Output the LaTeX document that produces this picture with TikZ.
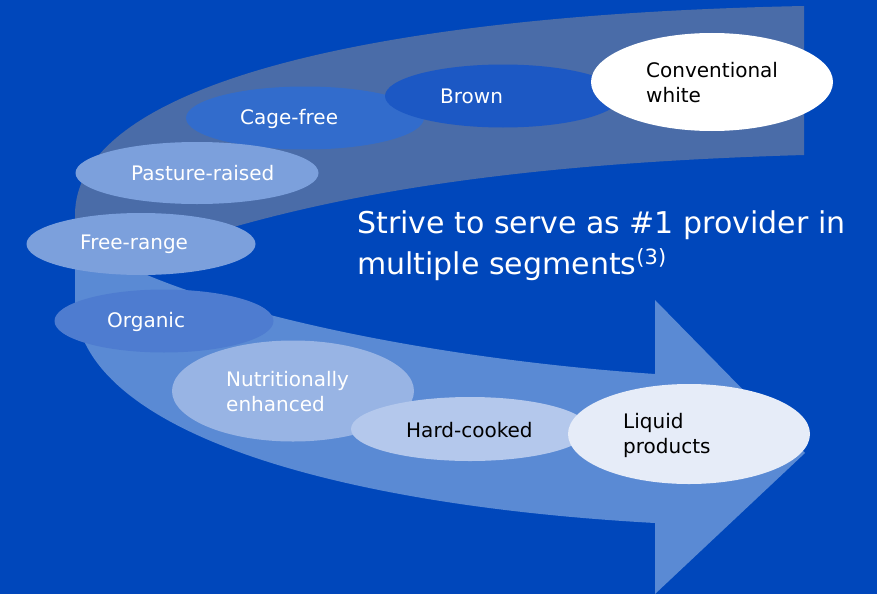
\documentclass[tikz,border=0pt]{standalone}
\usepackage{fontspec}
\setmainfont{DejaVu Sans}
\usetikzlibrary{shapes.geometric}

\definecolor{bgblue}{RGB}{0,71,187}
\definecolor{bandgrey}{RGB}{74,108,168}
\definecolor{arrowblue}{RGB}{90,138,212}
\definecolor{brownseg}{RGB}{28,88,196}
\definecolor{cageseg}{RGB}{50,108,204}
\definecolor{rangeseg}{RGB}{124,160,220}
\definecolor{organicseg}{RGB}{78,124,208}
\definecolor{nutriseg}{RGB}{152,180,228}
\definecolor{hardseg}{RGB}{180,200,236}
\definecolor{liquidseg}{RGB}{230,236,248}

\begin{document}
\begin{tikzpicture}[x=1pt, y=-1pt,
        seg/.style={ellipse, inner sep=0pt},
        lbl/.style={font=\fontsize{20}{25}\selectfont, align=left, inner sep=0pt, anchor=west}]
    \fill[bgblue] (0,0) rectangle (877,594);
    \useasboundingbox (0,0) rectangle (877,594);

    % lower arrow
    \fill[arrowblue] (75,230) -- (75,300) .. controls (75,430) and (330,505) .. (655,523)
        -- (655,594) -- (805,453) -- (655,300) -- (655,374)
        .. controls (450,360) and (250,320) .. (140,272) -- cycle;
    % upper band
    \fill[bandgrey] (75,262) -- (75,215) .. controls (75,90) and (350,15) .. (804,6)
        -- (804,155) .. controls (560,162) and (380,185) .. (230,228) -- (140,262) -- cycle;

    \foreach \nm/\cx/\cy/\w/\h/\col/\tx/\ty/\tc/\txt in {
            cage/305/118/238/63/cageseg/240/119/white/Cage-free,
            pasture/197/173/243/62/rangeseg/131/173/white/Pasture-raised,
            brown/503/96/236/63/brownseg/440/96/white/Brown,
            conv/712/82/242/98/white/646/83/black/{Conventional\\white},
            free/141/244/229/62/rangeseg/80/244/white/Free-range,
            nutri/293/391/242/101/nutriseg/226/392/white/{Nutritionally\\enhanced},
            organic/164/321/219/63/organicseg/107/322/white/Organic,
            hard/470/429/238/64/hardseg/406/430/black/Hard-cooked,
            liquid/689/434/242/100/liquidseg/623/435/black/{Liquid\\products}}
        {\node[seg, fill=\col, minimum width=\w, minimum height=\h] (\nm) at (\cx,\cy) {};
         \node[lbl, text=\tc] (\nm-t) at (\tx,\ty) {\txt};}

    \node[font=\fontsize{30}{41}\selectfont, text=white, align=left, inner sep=0pt,
        anchor=base west] (goal) at (357,274)
        {Strive to serve as \#1 provider in\\multiple segments\textsuperscript{(3)}};
\end{tikzpicture}
\end{document}
